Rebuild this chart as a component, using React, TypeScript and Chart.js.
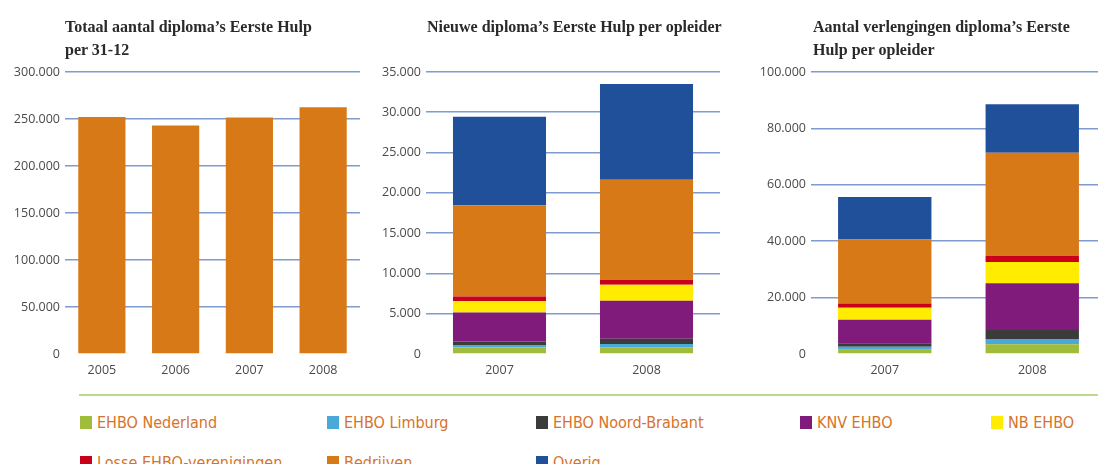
import React, { useEffect, useRef } from 'react';
import { Chart, registerables } from 'chart.js';

Chart.register(...registerables);

// ---------- data ----------
const totalYears = ['2005', '2006', '2007', '2008'];
const totalValues = [252000, 243000, 251500, 262500];
const totalTicks = ['0', '50.000', '100.000', '150.000', '200.000', '250.000', '300.000'];

const stackYears = ['2007', '2008'];
const seriesNames = [
  'EHBO Nederland',
  'EHBO Limburg',
  'EHBO Noord-Brabant',
  'KNV EHBO',
  'NB EHBO',
  'Losse EHBO-verenigingen',
  'Bedrijven',
  'Overig',
];
const seriesColors = ['#9fbd3a', '#4ba9d9', '#3b3b3b', '#801a7b', '#ffec00', '#c8001c', '#d77916', '#21509b'];

// Nieuwe diploma's per opleider (2007, 2008)
const newNederland = [800, 830];
const newLimburg = [250, 410];
const newNoordBrabant = [500, 660];
const newKNV = [3600, 4700];
const newNB = [1400, 2000];
const newLosse = [600, 620];
const newBedrijven = [11300, 12400];
const newOverig = [11000, 11900];
const newTicks = ['0', '5.000', '10.000', '15.000', '20.000', '25.000', '30.000', '35.000'];

// Verlengingen per opleider (2007, 2008)
const renNederland = [1530, 3420];
const renLimburg = [1060, 1880];
const renNoordBrabant = [1180, 3180];
const renKNV = [8360, 16600];
const renNB = [4240, 7540];
const renLosse = [1530, 2240];
const renBedrijven = [22700, 36500];
const renOverig = [15100, 17200];
const renTicks = ['0', '20.000', '40.000', '60.000', '80.000', '100.000'];

const newSeries = [newNederland, newLimburg, newNoordBrabant, newKNV, newNB, newLosse, newBedrijven, newOverig];
const renSeries = [renNederland, renLimburg, renNoordBrabant, renKNV, renNB, renLosse, renBedrijven, renOverig];

const totalColor = '#d77916';

// ---------- styling ----------
const gridColor = '#7f9bd0';
const tickColor = '#4a4a4a';
const tickFont = { family: "'Open Sans', 'DejaVu Sans', sans-serif", size: 12.5 };
const titleFont = "'Liberation Serif', 'DejaVu Serif', serif";
const legendFont = "'DejaVu Sans Condensed', 'DejaVu Sans', sans-serif";
const legendTextColor = '#d6732a';

type PanelProps = {
  labels: string[];
  datasets: any[];
  tickLabels: string[];
  max: number;
  step: number;
  areaLeft: number;
  barPct: number;
  width: number;
  height: number;
  left: number;
};

function Panel(p: PanelProps) {
  const ref = useRef<HTMLCanvasElement | null>(null);
  useEffect(() => {
    if (!ref.current) return;
    const chart = new Chart(ref.current, {
      type: 'bar',
      data: {
        labels: p.labels,
        datasets: p.datasets.map((d) => ({
          ...d,
          borderWidth: 0,
          barPercentage: p.barPct,
          categoryPercentage: 1,
        })),
      },
      options: {
        animation: false,
        responsive: false,
        maintainAspectRatio: false,
        layout: { padding: { left: 0, right: 2, top: 72, bottom: 0 } },
        plugins: {
          legend: { display: false },
          tooltip: { enabled: false },
          title: { display: false },
        },
        scales: {
          x: {
            stacked: true,
            grid: { display: false, drawTicks: false },
            border: { display: false },
            ticks: { font: tickFont, color: tickColor, padding: 9 },
            afterFit: (s: any) => {
              s.height = 36;
            },
          },
          y: {
            stacked: true,
            min: 0,
            max: p.max,
            ticks: {
              stepSize: p.step,
              font: tickFont,
              color: tickColor,
              padding: 5,
              callback: (_v: any, i: number) => p.tickLabels[i],
            },
            grid: {
              drawTicks: false,
              lineWidth: 1.6,
              color: (ctx: any) => (ctx.tick && ctx.tick.value === 0 ? 'rgba(0,0,0,0)' : gridColor),
            },
            border: { display: false },
            afterFit: (s: any) => {
              s.width = p.areaLeft;
            },
          },
        },
      } as any,
    });
    return () => chart.destroy();
  }, []);
  return (
    <canvas
      ref={ref}
      width={p.width}
      height={p.height}
      style={{ position: 'absolute', left: p.left, top: 0, width: p.width, height: p.height }}
    />
  );
}

function Title({ left, lines }: { left: number; lines: string[] }) {
  return (
    <div
      style={{
        position: 'absolute',
        left,
        top: 15,
        fontFamily: titleFont,
        fontWeight: 'bold',
        fontSize: 16,
        lineHeight: '23px',
        color: '#2a2a2a',
        whiteSpace: 'nowrap',
      }}
    >
      {lines.map((l, i) => (
        <div key={i}>{l}</div>
      ))}
    </div>
  );
}

export default function App() {
  const stacked = (series: number[][]) =>
    series.map((data, i) => ({ label: seriesNames[i], data, backgroundColor: seriesColors[i] }));

  const legendColX = [80, 327, 536, 800, 991];
  const legendRowY = [416, 456];

  return (
    <div
      style={{
        position: 'absolute',
        left: 0,
        top: 0,
        width: 1098,
        height: 464,
        overflow: 'hidden',
        background: '#ffffff',
      }}
    >
      <Panel
        labels={totalYears}
        datasets={[{ label: 'Totaal', data: totalValues, backgroundColor: totalColor }]}
        tickLabels={totalTicks}
        max={300000}
        step={50000}
        areaLeft={65}
        barPct={0.64}
        width={362}
        height={390}
        left={0}
      />
      <Panel
        labels={stackYears}
        datasets={stacked(newSeries)}
        tickLabels={newTicks}
        max={35000}
        step={5000}
        areaLeft={64}
        barPct={0.633}
        width={360}
        height={390}
        left={362}
      />
      <Panel
        labels={stackYears}
        datasets={stacked(renSeries)}
        tickLabels={renTicks}
        max={100000}
        step={20000}
        areaLeft={89}
        barPct={0.633}
        width={386}
        height={390}
        left={722}
      />
      <Title left={65} lines={["Totaal aantal diploma\u2019s Eerste Hulp", 'per 31-12']} />
      <Title left={427} lines={["Nieuwe diploma\u2019s Eerste Hulp per opleider"]} />
      <Title left={813} lines={["Aantal verlengingen diploma\u2019s Eerste", 'Hulp per opleider']} />

      <div
        style={{
          position: 'absolute',
          left: 79,
          top: 394,
          width: 1100,
          height: 2,
          background: '#bcd98c',
        }}
      />
      {seriesNames.map((name, i) => {
        const col = i % 5;
        const row = Math.floor(i / 5);
        return (
          <div
            key={name}
            style={{
              position: 'absolute',
              left: legendColX[col],
              top: legendRowY[row],
              height: 13,
              display: 'flex',
              alignItems: 'center',
              whiteSpace: 'nowrap',
            }}
          >
            <span
              style={{
                display: 'inline-block',
                width: 12,
                height: 13,
                background: seriesColors[i],
                marginRight: 5,
              }}
            />
            <span
              style={{
                fontFamily: legendFont,
                fontSize: 16,
                lineHeight: '13px',
                color: legendTextColor,
              }}
            >
              {name}
            </span>
          </div>
        );
      })}
    </div>
  );
}
